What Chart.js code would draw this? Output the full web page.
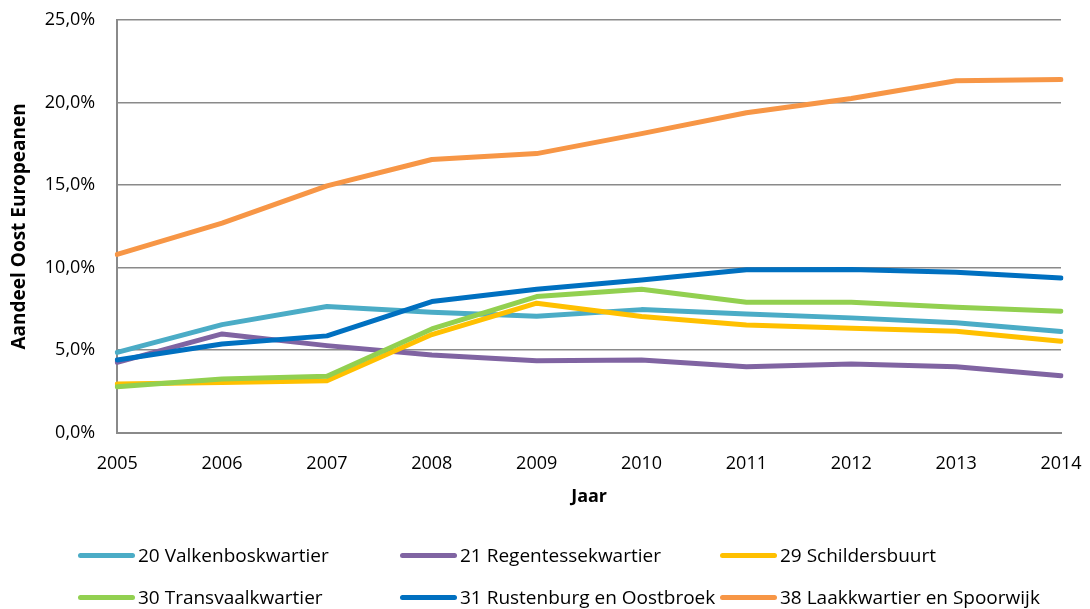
<!DOCTYPE html>
<html>
<head>
<meta charset="utf-8">
<script src="https://cdn.jsdelivr.net/npm/chart.js@4/dist/chart.umd.min.js"></script>
<style>
  html, body { margin: 0; padding: 0; background: #fff; }
  #wrap { position: relative; width: 1090px; height: 609px; }
  #legend { position: absolute; left: 0; top: 0; width: 1090px; height: 609px; pointer-events: none;
    font-family: "Open Sans", sans-serif; font-size: 19px; color: #000; }
  .item { position: absolute; display: flex; align-items: center; white-space: nowrap; }
  .swatch { width: 57px; height: 5px; border-radius: 3px; margin-right: 3px; }
</style>
</head>
<body>
<div id="wrap">
  <canvas id="c" width="1090" height="609"></canvas>
  <div id="legend"></div>
</div>
<script>
const years = ["2005","2006","2007","2008","2009","2010","2011","2012","2013","2014"];
const seriesNames = ["20 Valkenboskwartier","21 Regentessekwartier","29 Schildersbuurt",
                     "30 Transvaalkwartier","31 Rustenburg en Oostbroek","38 Laakkwartier en Spoorwijk"];
const valkenbos   = [4.87, 6.55, 7.65, 7.30, 7.06, 7.46, 7.20, 6.96, 6.66, 6.13];
const regentesse  = [4.27, 5.99, 5.28, 4.71, 4.37, 4.41, 4.00, 4.17, 4.00, 3.46];
const schilders   = [2.95, 3.05, 3.15, 5.95, 7.85, 7.04, 6.53, 6.33, 6.15, 5.54];
const transvaal   = [2.79, 3.26, 3.42, 6.29, 8.25, 8.70, 7.91, 7.91, 7.60, 7.36];
const rustenburg  = [4.41, 5.38, 5.87, 7.95, 8.70, 9.26, 9.87, 9.89, 9.73, 9.37];
const laak        = [10.80, 12.70, 14.95, 16.55, 16.91, 18.12, 19.38, 20.25, 21.32, 21.40];
const yTicks = [0, 5, 10, 15, 20, 25];
const colors = ["#4BACC6","#8064A2","#FFC000","#92D050","#0070C0","#F79646"];
const seriesData = [valkenbos, regentesse, schilders, transvaal, rustenburg, laak];

const datasets = seriesData.map((d, i) => ({
  label: seriesNames[i],
  data: d,
  borderColor: colors[i],
  backgroundColor: colors[i],
  borderWidth: 5,
  pointRadius: 0,
  tension: 0,
  borderCapStyle: 'round',
  borderJoinStyle: 'round',
  order: seriesData.length - i
}));

const FONT = '"Open Sans", sans-serif';
new Chart(document.getElementById('c'), {
  type: 'line',
  data: { labels: years, datasets },
  options: {
    responsive: false,
    animation: false,
    layout: { padding: { left: 8, right: 29, top: 20, bottom: 101 } },
    plugins: { legend: { display: false }, tooltip: { enabled: false } },
    scales: {
      x: {
        offset: false,
        grid: { display: false, drawTicks: true, tickLength: 17, tickColor: 'rgba(0,0,0,0)' },
        border: { display: true, color: '#8a8a8a', width: 2 },
        ticks: { color: '#000', font: { family: FONT, size: 18 }, padding: 3, maxRotation: 0, autoSkip: false },
        title: { display: true, text: 'Jaar', color: '#000', font: { family: FONT, size: 18, weight: 'bold' }, padding: { top: 9, bottom: 0 } }
      },
      y: {
        min: 0, max: 25,
        afterBuildTicks: (axis) => { axis.ticks = yTicks.map(v => ({ value: v })); },
        grid: { color: '#8a8a8a', lineWidth: 1.5, drawTicks: true, tickLength: 19, tickColor: 'rgba(0,0,0,0)' },
        border: { display: true, color: '#8a8a8a', width: 2 },
        ticks: { color: '#000', font: { family: FONT, size: 18 }, padding: 3,
                 callback: v => v.toFixed(1).replace('.', ',') + '%' },
        title: { display: true, text: 'Aandeel Oost Europeanen', color: '#000', font: { family: FONT, size: 19, weight: 'bold' }, padding: { top: 0, bottom: 11 } }
      }
    }
  }
});

const legend = document.getElementById('legend');
const legendX = [78, 400, 720];
const legendY = [555, 597];
seriesNames.forEach((name, i) => {
  const el = document.createElement('div');
  el.className = 'item';
  el.style.left = legendX[i % 3] + 'px';
  el.style.top = (legendY[Math.floor(i / 3)] - 13) + 'px';
  el.innerHTML = '<span class="swatch" style="background:' + colors[i] + '"></span><span>' + name + '</span>';
  legend.appendChild(el);
});
</script>
</body>
</html>
